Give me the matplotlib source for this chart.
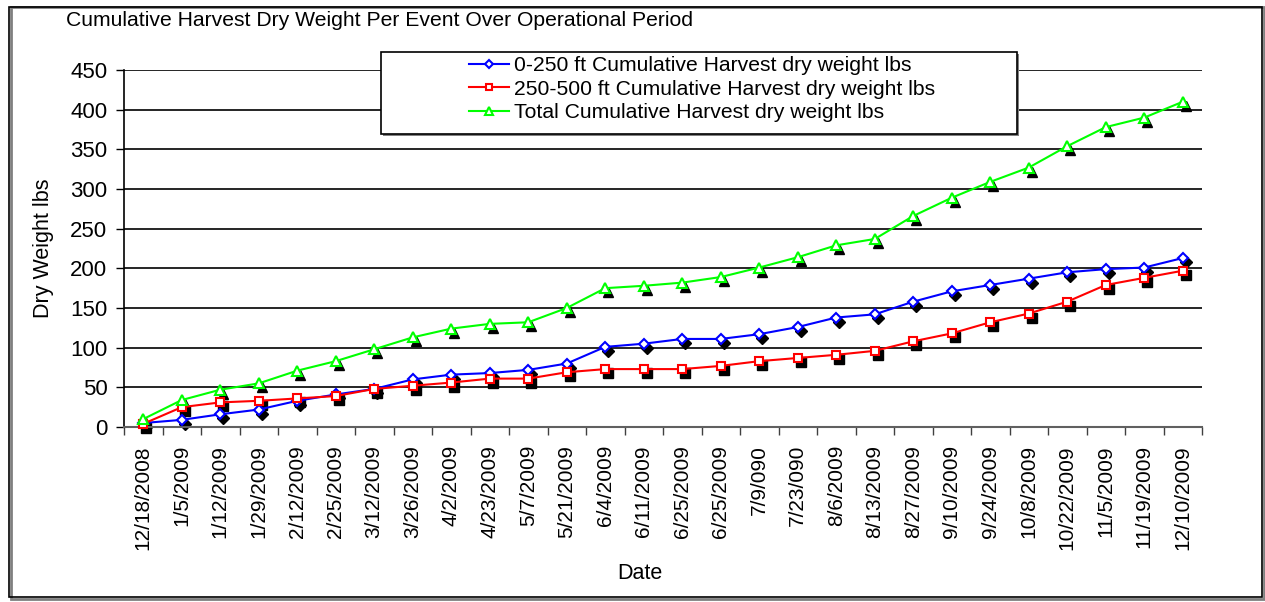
import matplotlib
matplotlib.use("Agg")
import matplotlib.pyplot as plt
import matplotlib.transforms as mtransforms
from matplotlib.patches import Rectangle
import numpy as np

plt.rcParams['font.family'] = ['Liberation Sans', 'DejaVu Sans']

dates = ['12/18/2008', '1/5/2009', '1/12/2009', '1/29/2009', '2/12/2009',
         '2/25/2009', '3/12/2009', '3/26/2009', '4/2/2009', '4/23/2009',
         '5/7/2009', '5/21/2009', '6/4/2009', '6/11/2009', '6/25/2009',
         '6/25/2009', '7/9/090', '7/23/090', '8/6/2009', '8/13/2009',
         '8/27/2009', '9/10/2009', '9/24/2009', '10/8/2009', '10/22/2009',
         '11/5/2009', '11/19/2009', '12/10/2009']

near_lbs = [5, 9, 16, 22, 33, 41, 48, 60, 66, 68, 72, 80, 101, 105, 111,
            111, 117, 126, 138, 142, 158, 171, 179, 187, 195, 199, 201, 213]
far_lbs = [4, 25, 31, 33, 36, 39, 48, 52, 56, 61, 61, 69, 73, 73, 73,
           77, 83, 87, 91, 96, 108, 118, 132, 143, 158, 179, 188, 197]
total_lbs = [10, 34, 47, 55, 71, 83, 98, 113, 124, 130, 132, 150, 175, 178,
             182, 189, 201, 214, 229, 237, 266, 289, 309, 327, 354, 378, 390,
             410]

series = [
    (near_lbs, '0-250 ft Cumulative Harvest dry weight lbs', '#0000FF', 'D', 6),
    (far_lbs, '250-500 ft Cumulative Harvest dry weight lbs', '#FF0000', 's', 6.5),
    (total_lbs, 'Total Cumulative Harvest dry weight lbs', '#00FF00', '^', 7.5),
]

W, H = 1265, 602
fig = plt.figure(figsize=(W / 100, H / 100), dpi=100)


def fx(px):
    return px / W


def fy(py):
    return 1 - py / H


# outer chart border
fig.patches.append(Rectangle((fx(11), fy(599)), fx(1253), 592 / H,
                             transform=fig.transFigure, facecolor='none',
                             edgecolor='#808080', lw=2, zorder=-2))
fig.patches.append(Rectangle((fx(9), fy(597)), fx(1253), 590 / H,
                             transform=fig.transFigure, facecolor='none',
                             edgecolor='black', lw=1.2, zorder=-1))

ax = fig.add_axes([fx(124), fy(427), fx(1202 - 124), (427 - 70) / H])
ax.patch.set_alpha(0)
x = np.arange(len(dates))

# black drop shadows under the markers, as Excel draws them
shadow = mtransforms.offset_copy(ax.transData, fig=fig, x=3, y=-4, units='dots')
for vals, label, color, marker, ms in series:
    ax.plot(x, vals, linestyle='none', marker=marker, ms=ms, color='black',
            transform=shadow, zorder=2, clip_on=False)
handles = []
for vals, label, color, marker, ms in series:
    h, = ax.plot(x, vals, color=color, lw=1.5, marker=marker, ms=ms * 0.9,
                 mfc='white', mec=color, mew=1.5, label=label, zorder=3,
                 clip_on=False)
    handles.append(h)

ax.set_xlim(-0.5, len(dates) - 0.5)
ax.set_ylim(0, 450)
ax.set_yticks(np.arange(0, 451, 50))
ax.yaxis.grid(True, color='black', lw=1.2)
ax.set_axisbelow(True)

ax.set_xticks(x)
ax.set_xticklabels(dates, rotation=90, fontsize=15)
ax.set_xticks(np.arange(-0.5, len(dates), 1), minor=True)
ax.tick_params(axis='x', which='major', length=0, pad=13)
ax.tick_params(axis='x', which='minor', length=6, direction='out',
               color='#404040', width=1)
ax.tick_params(axis='y', length=6, direction='out', labelsize=16, width=1,
               pad=6)

for s in ['top', 'right']:
    ax.spines[s].set_visible(False)
ax.spines['left'].set_linewidth(1.2)
ax.spines['bottom'].set_color('#606060')
ax.spines['bottom'].set_linewidth(1.5)

ax.set_ylabel('Dry Weight lbs', fontsize=15.5)
ax.yaxis.set_label_coords((54 - 124) / 1078, (427 - 248) / 357)
ax.set_xlabel('Date', fontsize=15.5)
ax.xaxis.set_label_coords((640 - 124) / 1078, (427 - 563) / 357)

fig.text(fx(66), fy(21), 'Cumulative Harvest Dry Weight Per Event Over Operational Period',
         fontsize=15.2, ha='left', va='center')

# legend box with shadow
fig.patches.append(Rectangle((fx(383), fy(136)), fx(636), 82 / H,
                             transform=fig.transFigure, facecolor='#808080',
                             edgecolor='none', zorder=4))
fig.patches.append(Rectangle((fx(381), fy(134)), fx(636), 82 / H,
                             transform=fig.transFigure, facecolor='white',
                             edgecolor='black', lw=1.2, zorder=5))
leg = fig.legend(handles=handles, loc='upper left', bbox_to_anchor=(fx(469), fy(56)),
                 bbox_transform=fig.transFigure, frameon=False, fontsize=15.2,
                 borderpad=0, borderaxespad=0, handlelength=1.9,
                 handletextpad=0.25, labelspacing=0.22, markerscale=0.8)
leg.set_zorder(6)

fig.savefig('out.png', dpi=100)
